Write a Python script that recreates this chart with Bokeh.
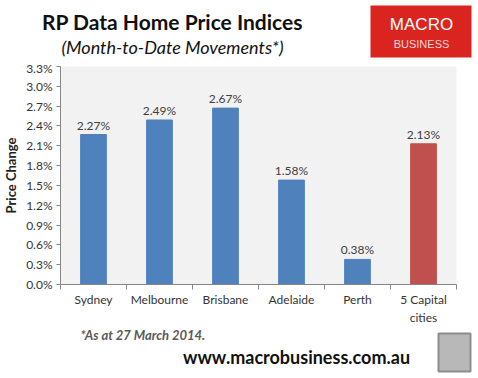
from bokeh.plotting import figure
from bokeh.models import (ColumnDataSource, FixedTicker, PrintfTickFormatter,
                          Range1d, LabelSet)
from bokeh.core.properties import value
from bokeh.embed import file_html
from bokeh.resources import INLINE

categories = ["Sydney", "Melbourne", "Brisbane", "Adelaide", "Perth", "5 Capital\ncities"]
values = [2.27, 2.49, 2.67, 1.58, 0.38, 2.13]
colors = ["#4F81BD", "#4F81BD", "#4F81BD", "#4F81BD", "#4F81BD", "#C0504D"]
y_ticks = [0.0, 0.3, 0.6, 0.9, 1.2, 1.5, 1.8, 2.1, 2.4, 2.7, 3.0, 3.3]

W = 478
HEAD_H, CHART_H, FOOT_H = 60, 267, 51
FONT = "Lato"


def deco_figure(h):
    f = figure(width=W, height=h, output_backend="svg", toolbar_location=None,
               x_range=Range1d(0, W), y_range=Range1d(h, 0),
               min_border=0, min_border_left=0, min_border_right=0,
               min_border_top=0, min_border_bottom=0)
    f.axis.visible = False
    f.grid.visible = False
    f.outline_line_color = None
    f.background_fill_color = "white"
    f.border_fill_color = "white"
    return f


# ---- header ----
head = deco_figure(HEAD_H)
head.text(x=[172], y=[21], text=["RP Data Home Price Indices"], text_align="center",
          text_baseline="middle", text_font=value(FONT), text_font_style="bold",
          text_font_size="21px", text_color="#111111")
head.text(x=[172], y=[46], text=["(Month-to-Date Movements*)"], text_align="center",
          text_baseline="middle", text_font=value(FONT), text_font_style="italic",
          text_font_size="18px", text_color="#111111")
head.quad(left=[370], right=[471], top=[5], bottom=[57], fill_color="#D92420",
          line_color=None)
head.text(x=[421], y=[24], text=["MACRO"], text_align="center", text_baseline="middle",
          text_font=value("Liberation Sans"), text_font_size="17px", text_color="white")
head.text(x=[421], y=[43], text=["BUSINESS"], text_align="center", text_baseline="middle",
          text_font=value("Liberation Sans"), text_font_size="11px", text_color="#F4DADA")

# ---- chart ----
xs = [i + 0.5 for i in range(len(categories))]
src = ColumnDataSource(dict(x=xs, top=values, color=colors,
                            label=["%.2f%%" % v for v in values]))

p = figure(width=W, height=CHART_H, output_backend="svg", toolbar_location=None,
           x_range=Range1d(0, len(categories)), y_range=Range1d(0, 3.3),
           min_border_left=59, min_border_right=22, min_border_top=6,
           min_border_bottom=40)
p.background_fill_color = "#F2F2F2"
p.border_fill_color = "white"
p.outline_line_color = None
p.xgrid.visible = False
p.ygrid.visible = False

p.vbar(x="x", top="top", width=0.39, color="color", source=src)
p.add_layout(LabelSet(x="x", y="top", text="label", source=src, text_align="center",
                      y_offset=2, text_font_size=value("12px"), text_color=value("#404040"),
                      text_font=value(FONT)))

p.yaxis.ticker = FixedTicker(ticks=y_ticks)
p.yaxis.formatter = PrintfTickFormatter(format="%.1f%%")
p.yaxis.axis_label = "Price Change"
p.yaxis.axis_label_text_font = FONT
p.yaxis.axis_label_text_font_style = "bold"
p.yaxis.axis_label_text_font_size = "13px"
p.yaxis.axis_label_text_color = "#222222"
p.yaxis.axis_label_standoff = 4
for ax in (p.xaxis, p.yaxis):
    ax.axis_line_color = "#868686"
    ax.major_tick_line_color = "#868686"
    ax.minor_tick_line_color = "#868686"
    ax.major_label_text_font = FONT
    ax.major_label_text_font_size = "12px"
    ax.major_label_text_color = "#333333"
p.yaxis.major_tick_out = 4
p.yaxis.major_tick_in = 0
p.yaxis.minor_tick_out = 0
p.yaxis.minor_tick_in = 0
p.yaxis.major_label_standoff = 4

p.xaxis.ticker = FixedTicker(ticks=xs, minor_ticks=list(range(len(categories) + 1)))
p.xaxis.major_label_overrides = {x: c for x, c in zip(xs, categories)}
p.xaxis.major_tick_out = 0
p.xaxis.major_tick_in = 0
p.xaxis.minor_tick_out = 5
p.xaxis.minor_tick_in = 0
p.xaxis.major_label_standoff = 2

# ---- footer ----
foot = deco_figure(FOOT_H)
foot.text(x=[80], y=[7], text=["*As at 27 March 2014."], text_align="left",
          text_baseline="middle", text_font=value(FONT), text_font_style="bold italic",
          text_font_size="13px", text_color="#595959")
foot.text(x=[296], y=[29], text=["www.macrobusiness.com.au"], text_align="center",
          text_baseline="middle", text_font=value(FONT), text_font_style="bold",
          text_font_size="18px", text_color="#111111")
foot.quad(left=[438], right=[470], top=[6], bottom=[44], fill_color="#B8B8B8",
          line_color="#8C8C8C", line_width=2)

open("out.html", "w").write(file_html([head, p, foot], INLINE))
